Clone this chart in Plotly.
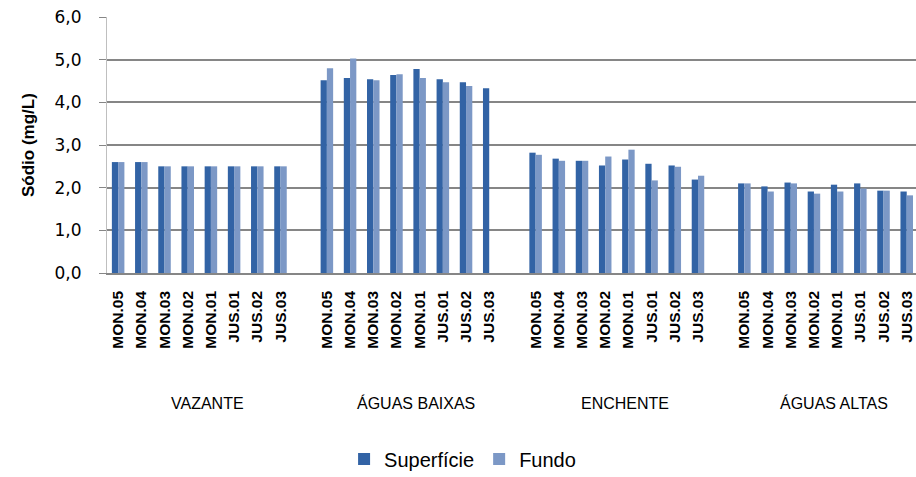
import plotly.graph_objects as go

groups = ["VAZANTE", "ÁGUAS BAIXAS", "ENCHENTE", "ÁGUAS ALTAS"]
stations = ["MON.05", "MON.04", "MON.03", "MON.02", "MON.01", "JUS.01", "JUS.02", "JUS.03"]

superficie = [
    [2.60, 2.60, 2.50, 2.50, 2.50, 2.50, 2.50, 2.50],
    [4.52, 4.57, 4.54, 4.64, 4.78, 4.54, 4.47, 4.33],
    [2.82, 2.68, 2.63, 2.52, 2.66, 2.56, 2.52, 2.19],
    [2.10, 2.03, 2.12, 1.91, 2.07, 2.10, 1.93, 1.91],
]
fundo = [
    [2.60, 2.60, 2.50, 2.50, 2.50, 2.50, 2.50, 2.50],
    [4.80, 5.03, 4.52, 4.66, 4.57, 4.47, 4.38, None],
    [2.77, 2.63, 2.63, 2.73, 2.89, 2.17, 2.49, 2.28],
    [2.10, 1.91, 2.10, 1.86, 1.91, 1.98, 1.93, 1.82],
]
y_ticks = [0, 1, 2, 3, 4, 5, 6]

# positions: one blank category between groups
step = len(stations) + 1
xs, labels, sup, fun = [], [], [], []
for gi, g in enumerate(groups):
    for si, s in enumerate(stations):
        xs.append(gi * step + si)
        labels.append(s)
        sup.append(superficie[gi][si])
        fun.append(fundo[gi][si])

fig = go.Figure()
fig.add_bar(x=xs, y=sup, name="Superfície", marker=dict(color="#3263a5", line=dict(width=0)))
fig.add_bar(x=xs, y=fun, name="Fundo", marker=dict(color="#7c98c6", line=dict(width=0)))

for gi, g in enumerate(groups):
    fig.add_annotation(
        x=gi * step + len(stations) / 2 - 0.15, xref="x",
        y=(273 - 403) / 256, yref="paper",
        text=g, showarrow=False, yanchor="middle",
        font=dict(family="Liberation Sans Narrow, Liberation Sans, sans-serif", size=16, color="#000000"),
    )

fig.add_annotation(
    x=(28 - 107) / 809, xref="paper", y=0.5, yref="paper", text="<b>Sódio (mg/L)</b>",
    textangle=-90, showarrow=False, xanchor="center", yanchor="middle",
    font=dict(family="Liberation Sans, Arial, sans-serif", size=17, color="#000000"),
)

fig.update_layout(
    width=916, height=477,
    margin=dict(l=107, r=0, t=17, b=204, autoexpand=False),
    paper_bgcolor="white", plot_bgcolor="white",
    barmode="group", bargap=0.46, bargroupgap=0,
    separators=",.",
    showlegend=True,
    legend=dict(
        orientation="h", xref="container", yref="container",
        x=0.505, xanchor="center", y=1 - 459 / 477, yanchor="middle",
        font=dict(family="Liberation Sans Narrow, Liberation Sans, sans-serif", size=20, color="#000000"),
        itemwidth=30, traceorder="normal",
    ),
    xaxis=dict(
        range=[-0.48, 34.4], automargin=False,
        tickmode="array", tickvals=xs, ticktext=["<b>%s</b>" % l for l in labels],
        tickangle=-90, ticks="outside", ticklen=10, tickcolor="rgba(0,0,0,0)",
        tickfont=dict(family="Liberation Sans, Arial, sans-serif", size=15.5, color="#000000"),
        showgrid=False, showline=True, linecolor="#868686", linewidth=1.5,
        zeroline=False,
    ),
    yaxis=dict(
        range=[0, 6], automargin=False, tickmode="array", tickvals=y_ticks, tickformat=".1f",
        ticks="outside", ticklen=7, tickcolor="#868686",
        ticklabelstandoff=14,
        tickfont=dict(family="DejaVu Sans, Verdana, sans-serif", size=17, color="#000000"),
        showgrid=True, gridcolor="#868686", gridwidth=1.5,
        showline=True, linecolor="#bfbfbf", linewidth=1,
        zeroline=False,
    ),
)

fig.write_html(
    "out.html",
    config={"displayModeBar": False},
    post_script="document.body.style.margin='0';document.body.style.padding='0';",
)
